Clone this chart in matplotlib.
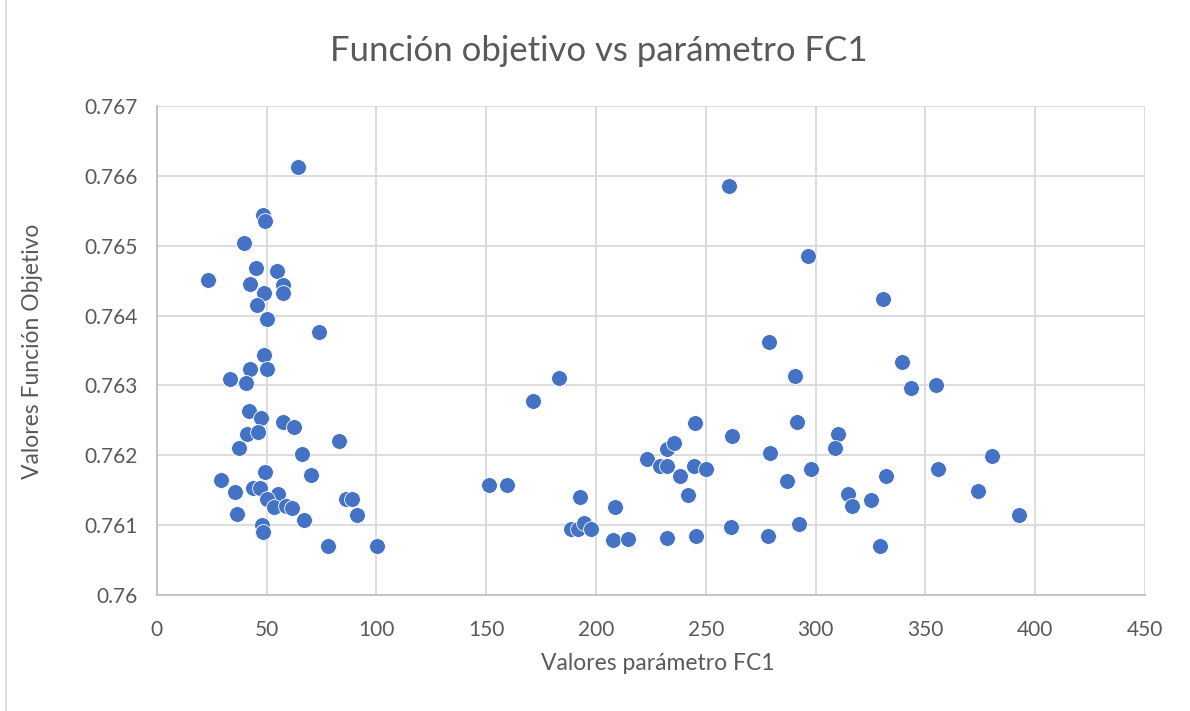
import matplotlib
matplotlib.use("Agg")
import matplotlib.pyplot as plt
from matplotlib.lines import Line2D

# Data
fc1 = [64.21, 48.54, 49.32, 39.75, 45.08, 54.64, 23.50, 42.49, 57.65, 57.38,
       49.00, 45.81, 50.36, 74.04, 48.86, 42.49, 50.36, 33.38, 40.66, 42.17,
       47.50, 57.65, 62.66, 41.26, 46.27, 83.01, 37.34, 66.03, 49.32, 70.13,
       29.14, 35.52, 43.99, 47.04, 55.10, 50.09, 53.42, 58.88, 61.75, 86.07,
       89.07, 36.43, 67.21, 91.07, 48.09, 48.27, 78.01, 100.46,
       151.18, 159.52, 171.36, 183.20, 192.62, 188.66, 191.85, 194.72, 197.63,
       208.56, 207.79, 214.62, 223.13, 229.19, 232.24, 232.24, 235.56, 238.30,
       241.94, 232.24, 244.67, 245.26, 245.72, 250.00, 261.84, 261.52, 260.75,
       296.72, 330.74, 278.69, 290.53, 339.39, 343.62, 354.74, 291.44, 310.11,
       308.74, 279.28, 297.95, 286.89, 332.24, 355.92, 380.51, 314.94, 316.62,
       325.41, 373.86, 392.80, 278.23, 292.62, 329.23]
objetivo = [0.76612, 0.76544, 0.76536, 0.76504, 0.76468, 0.76464, 0.76451, 0.76445, 0.76444, 0.76433,
            0.76433, 0.76415, 0.76395, 0.76377, 0.76343, 0.76323, 0.76323, 0.76309, 0.76304, 0.76264,
            0.76253, 0.76248, 0.76241, 0.76230, 0.76234, 0.76221, 0.76210, 0.76202, 0.76176, 0.76172,
            0.76165, 0.76148, 0.76153, 0.76153, 0.76144, 0.76137, 0.76126, 0.76128, 0.76124, 0.76138,
            0.76138, 0.76116, 0.76108, 0.76115, 0.76100, 0.76090, 0.76070, 0.76070,
            0.76158, 0.76157, 0.76278, 0.76310, 0.76140, 0.76094, 0.76095, 0.76103, 0.76095,
            0.76126, 0.76079, 0.76080, 0.76195, 0.76185, 0.76185, 0.76209, 0.76218, 0.76170,
            0.76143, 0.76082, 0.76185, 0.76246, 0.76084, 0.76180, 0.76227, 0.76097, 0.76585,
            0.76485, 0.76424, 0.76362, 0.76314, 0.76333, 0.76296, 0.76301, 0.76248, 0.76231,
            0.76210, 0.76203, 0.76181, 0.76163, 0.76170, 0.76181, 0.76199, 0.76144, 0.76128,
            0.76136, 0.76149, 0.76114, 0.76084, 0.76101, 0.76070]

x_ticks = [0, 50, 100, 150, 200, 250, 300, 350, 400, 450]
y_ticks = [0.760, 0.761, 0.762, 0.763, 0.764, 0.765, 0.766, 0.767]
y_tick_labels = ["0.76", "0.761", "0.762", "0.763", "0.764", "0.765", "0.766", "0.767"]

title = "Función objetivo vs parámetro FC1"
xlabel = "Valores parámetro FC1"
ylabel = "Valores Función Objetivo"

plt.rcParams['font.family'] = ['Lato', 'DejaVu Sans']
W, H = 1190, 711
fig = plt.figure(figsize=(W / 100, H / 100), dpi=100)
ax = fig.add_axes([156.7 / W, 1 - 595 / H, (1145 - 156.7) / W, (595 - 106) / H])

gray_text = "#595959"
grid_c = "#D9D9D9"

ax.scatter(fc1, objetivo, s=130, color="#4472C4", edgecolors="white",
           linewidths=0.6, zorder=3)

ax.set_xlim(0, 450)
ax.set_ylim(0.760, 0.767)
ax.set_xticks(x_ticks)
ax.set_yticks(y_ticks)
ax.set_yticklabels(y_tick_labels)
ax.grid(True, color=grid_c, linewidth=1.3, zorder=0)
for s in ["top", "right"]:
    ax.spines[s].set_visible(False)
for s in ["left", "bottom"]:
    ax.spines[s].set_color("#BFBFBF")
    ax.spines[s].set_linewidth(1.3)
ax.tick_params(axis="both", length=0, labelsize=15, colors=gray_text)
ax.tick_params(axis="x", pad=18)
ax.tick_params(axis="y", pad=14)

fig.text(599 / W, 1 - 51 / H, title, ha="center", va="center",
         fontsize=25, color=gray_text)
fig.text(658 / W, 1 - 664 / H, xlabel, ha="center", va="center",
         fontsize=16.5, color=gray_text)
fig.text(33 / W, 1 - 351 / H, ylabel, ha="center", va="center",
         rotation=90, fontsize=16.5, color=gray_text)

fig.add_artist(Line2D([6 / W, 6 / W], [0, 1], transform=fig.transFigure,
                      color="#D9D9D9", linewidth=1.2))

fig.savefig("out.png", dpi=100)
